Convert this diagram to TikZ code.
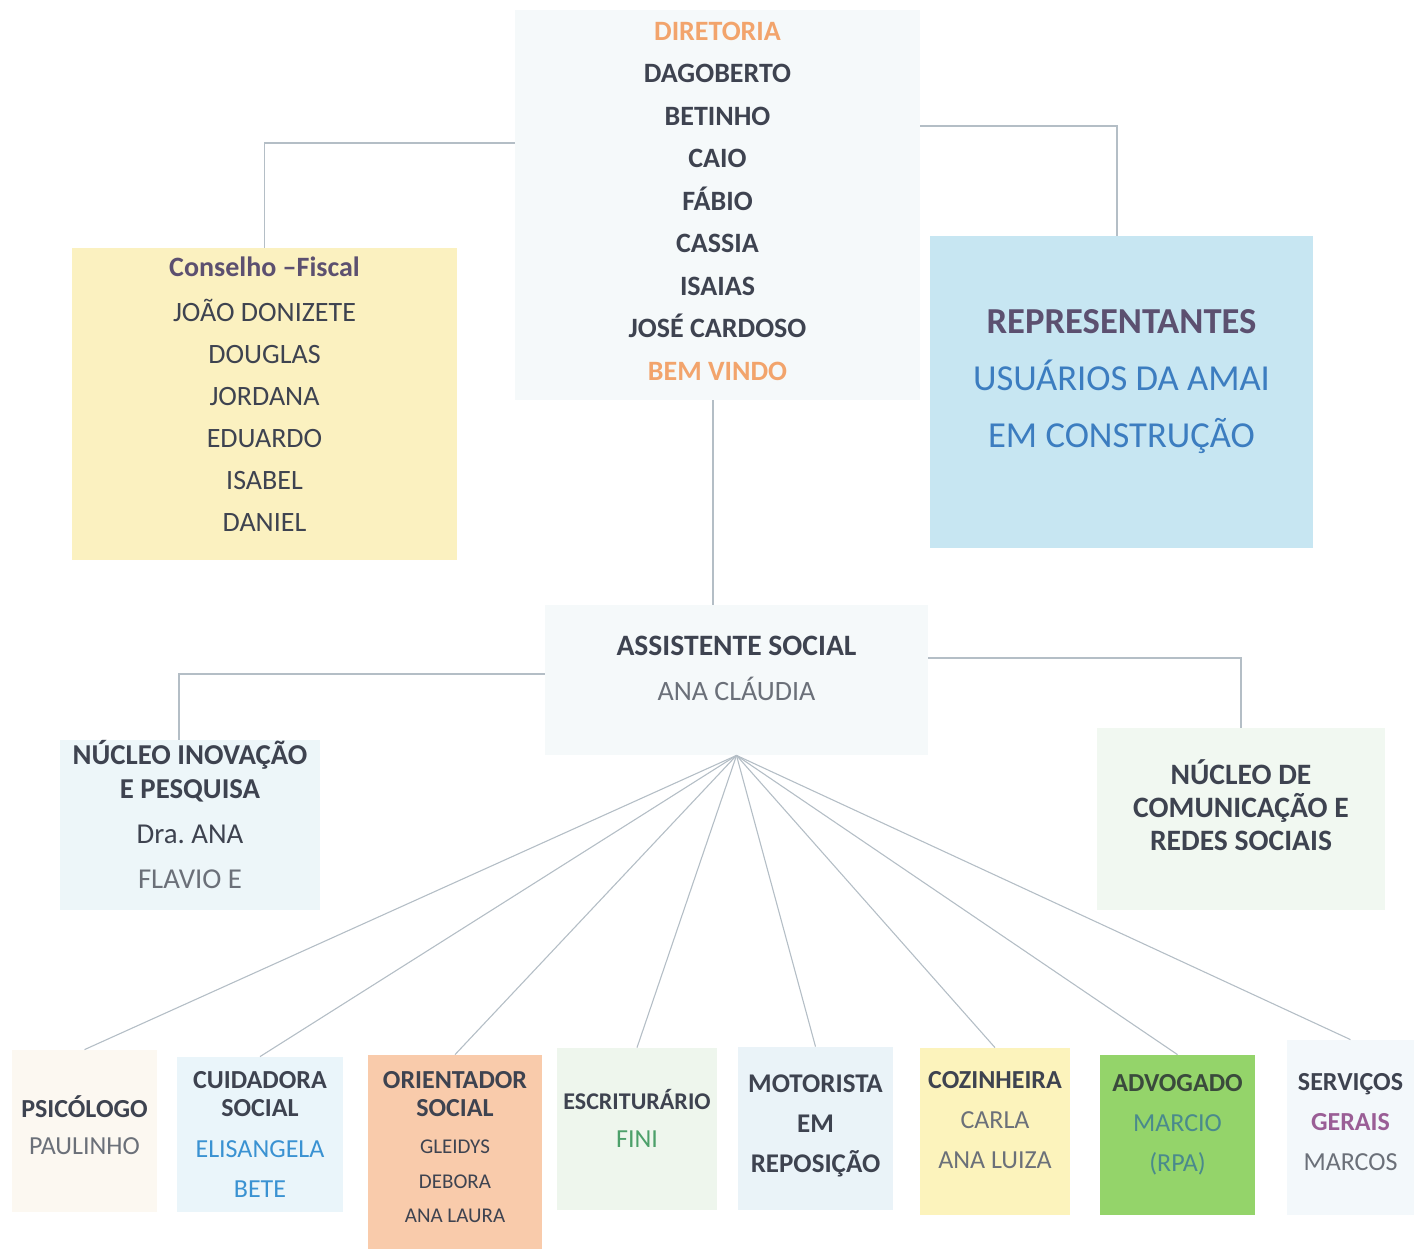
\documentclass[tikz,border=0pt]{standalone}
\usepackage{fontspec}
\setmainfont{Carlito}
\usetikzlibrary{positioning}
\definecolor{txtdark}{HTML}{3E4350}
\definecolor{txtgray}{HTML}{6B7079}
\definecolor{txtorange}{HTML}{F2A46C}
\definecolor{txtpurple}{HTML}{5C5070}
\definecolor{txtblue}{HTML}{3C7DC0}
\definecolor{txtsky}{HTML}{3A92D2}
\definecolor{txtgreen}{HTML}{4CA06A}
\definecolor{txtteal}{HTML}{4A8A8C}
\definecolor{txtplum}{HTML}{9A5E96}
\definecolor{txtlaw}{HTML}{3A4A3C}
\definecolor{linegray}{HTML}{B4BEC6}
\definecolor{fillpale}{HTML}{F5F9FA}
\definecolor{fillyellow}{HTML}{FBF1C0}
\definecolor{fillblue}{HTML}{C7E6F2}
\definecolor{fillice}{HTML}{EDF6F9}
\definecolor{fillmint}{HTML}{F1F8F1}
\definecolor{fillcream}{HTML}{FCF8F1}
\definecolor{fillsky}{HTML}{EAF5FA}
\definecolor{fillpeach}{HTML}{F9CBAB}
\definecolor{fillsage}{HTML}{EEF6ED}
\definecolor{fillfrost}{HTML}{EAF3F8}
\definecolor{fillbutter}{HTML}{FCF3BC}
\definecolor{filllime}{HTML}{94D46A}
\definecolor{fillwhite}{HTML}{F3F8FB}
\tikzset{
x=0.5pt, y=-0.5pt, % one unit is one pixel of the chart
box/.style={inner sep=2pt, align=center, text=txtdark}, % every box of the chart
link/.style={draw=linegray, line width=0.55pt}, % thin grey connectors
staff/.style={box, font=\fontsize{13}{20}\selectfont}, % the bottom row
}
\begin{document}
\begin{tikzpicture}
        \useasboundingbox (0,0) rectangle (1414,1249);

            % board and councils
            \node[box, fill=fillpale, minimum width=202.5pt, minimum height=195pt, text depth=4pt, font=\bfseries\fontsize{14}{21.25}\selectfont] (dir) at (717.5,205)
                {\textcolor{txtorange}{DIRETORIA}\\DAGOBERTO\\BETINHO\\CAIO\\FÁBIO\\CASSIA\\ISAIAS\\JOSÉ CARDOSO\\\textcolor{txtorange}{BEM VINDO}};
            \node[box, fill=fillyellow, minimum width=192.5pt, minimum height=156pt, text depth=10pt, font=\fontsize{14}{21}\selectfont] (cf) at (264.5,404)
                {\textcolor{txtpurple}{\bfseries Conselho –Fiscal}\\[1.5pt]JOÃO DONIZETE\\DOUGLAS\\JORDANA\\EDUARDO\\ISABEL\\DANIEL};
            \node[box, fill=fillblue, minimum width=191.5pt, minimum height=156pt, text depth=13.5pt, font=\fontsize{18.3}{28.5}\selectfont] (rep) at (1121.5,392)
                {\textcolor{txtpurple}{\bfseries REPRESENTANTES}\\\textcolor{txtblue}{USUÁRIOS DA AMAI}\\\textcolor{txtblue}{EM CONSTRUÇÃO}};
            \node[box, fill=fillpale, minimum width=191.5pt, minimum height=75pt, text depth=12pt, font=\fontsize{14}{22.5}\selectfont] (as) at (736.5,680)
                {{\fontsize{14.8}{17}\selectfont\bfseries ASSISTENTE SOCIAL}\\\textcolor{txtgray}{ANA CLÁUDIA}};

            % nuclei
            \node[box, fill=fillice, inner ysep=0pt, minimum width=130pt, minimum height=85pt, text depth=11pt, font=\fontsize{14.4}{17}\selectfont] (ni) at (190,825)
                {\textbf{NÚCLEO INOVAÇÃO}\\\textbf{E PESQUISA}\\[5.5pt]Dra.\ ANA\\[5.5pt]\textcolor{txtgray}{FLAVIO E}};
            \node[box, fill=fillmint, minimum width=144pt, minimum height=91pt, text depth=14pt, font=\bfseries\fontsize{14.8}{16.5}\selectfont] (nc) at (1241,819)
                {NÚCLEO DE\\COMUNICAÇÃO E\\REDES SOCIAIS};

            % staff
            \node[staff, fill=fillcream, minimum width=72.5pt, minimum height=81pt, text depth=6pt] (psi) at (84.5,1131)
                {\textbf{PSICÓLOGO}\\[-1.5pt]\textcolor{txtgray}{PAULINHO}};
            \node[staff, fill=fillsky, minimum width=83pt, minimum height=77.5pt, font=\fontsize{13}{14}\selectfont] (cui) at (260,1134.5)
                {\textbf{CUIDADORA}\\\textbf{SOCIAL}\\[6.5pt]\textcolor{txtsky}{ELISANGELA}\\[6pt]\textcolor{txtsky}{BETE}};
            \node[staff, fill=fillpeach, minimum width=87pt, minimum height=97pt, text depth=5pt, font=\fontsize{13}{14}\selectfont] (ori) at (455,1152)
                {\textbf{ORIENTADOR}\\\textbf{SOCIAL}\\[4.5pt]{\fontsize{10.5}{12}\selectfont GLEIDYS}\\[3.5pt]{\fontsize{10.5}{12}\selectfont DEBORA}\\[3pt]{\fontsize{10.5}{12}\selectfont ANA LAURA}};
            \node[staff, fill=fillsage, minimum width=80pt, minimum height=81pt, text depth=11pt, font=\fontsize{12}{19}\selectfont] (esc) at (637,1129)
                {\textbf{ESCRITURÁRIO}\\\textcolor{txtgreen}{\fontsize{13}{19}\selectfont FINI}};
            \node[staff, fill=fillfrost, minimum width=77.5pt, minimum height=81.5pt, text depth=4.6pt, font=\bfseries\fontsize{13.5}{20}\selectfont] (mot) at (815.5,1128.5)
                {MOTORISTA\\EM\\REPOSIÇÃO};
            \node[staff, fill=fillbutter, minimum width=75pt, minimum height=83.5pt, text depth=12pt] (coz) at (995,1131.5)
                {\textbf{COZINHEIRA}\\\textcolor{txtgray}{CARLA}\\\textcolor{txtgray}{ANA LUIZA}};
            \node[staff, fill=filllime, minimum width=77.5pt, minimum height=80pt, text depth=12.2pt] (adv) at (1177.5,1135)
                {\textcolor{txtlaw}{\bfseries ADVOGADO}\\\textcolor{txtteal}{MARCIO}\\\textcolor{txtteal}{(RPA)}};
            \node[staff, fill=fillwhite, minimum width=63.5pt, minimum height=87.5pt, text depth=6pt] (ser) at (1350.5,1127.5)
                {\textbf{SERVIÇOS}\\\textcolor{txtplum}{\bfseries GERAIS}\\\textcolor{txtgray}{MARCOS}};

            % connectors
            \draw[link] (dir.west |- 0,143) -| (cf);
            \draw[link] (dir.east |- 0,126) -| (rep.north -| 1117,0);
            \draw[link] (dir.south -| 713,0) -- (as.north -| 713,0);
            \draw[link] (as.west |- 0,674) -| (ni.north -| 179,0);
            \draw[link] (as.east |- 0,658) -| (nc);
            \foreach \s in {psi,cui,ori,esc,mot,coz,adv,ser}
                \draw[link] (as.south) -- (\s.north);
        \end{tikzpicture}
\end{document}
